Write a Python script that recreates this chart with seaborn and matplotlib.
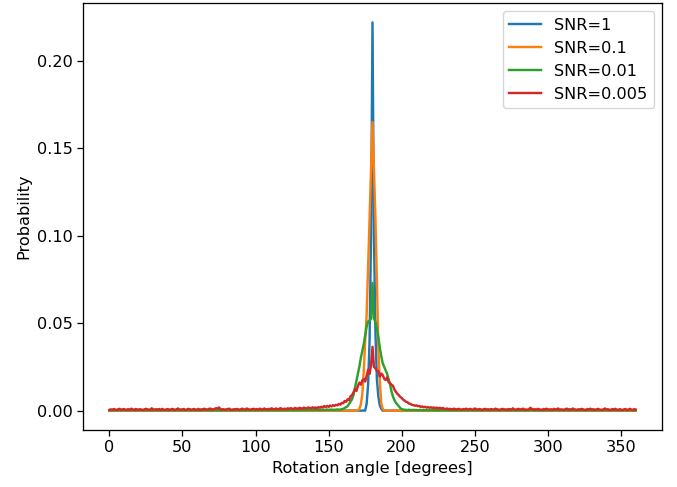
import numpy as np
import pandas as pd
import matplotlib
matplotlib.use("Agg")
import matplotlib.pyplot as plt
import seaborn as sns

# scale factor: the reference was drawn at ~116 dpi, we save at 100 dpi
k = 1.16
plt.rcParams.update({
    "font.size": 10 * k,
    "lines.linewidth": 1.5 * k,
    "axes.linewidth": 0.8 * k,
    "xtick.major.size": 3.5 * k,
    "ytick.major.size": 3.5 * k,
    "xtick.major.width": 0.8 * k,
    "ytick.major.width": 0.8 * k,
    "legend.fontsize": 10 * k,
})

# values, in units of 1e-4 (probability per 1 degree bin)
# SNR=1 : only non-zero around the peak, 176..186
blue_peak = [40, 150, 400, 1000, 2220, 1000, 450, 180, 80, 30, 10]
blue = [0] * 176 + blue_peak + [0] * (361 - 176 - len(blue_peak))

# SNR=0.1 : non-zero 171..187
orange_peak = [10, 35, 90, 220, 400, 550, 820, 1100, 1370, 1650, 1370, 1100, 750, 350, 170, 40, 10]
orange = [0] * 171 + orange_peak + [0] * (361 - 171 - len(orange_peak))

# SNR=0.01
green_left = [
    2, 3, 2, 1, 3, 2, 2, 4, 1, 2, 3, 2, 2, 1, 3, 2, 5, 2, 1, 2,
    3, 2, 2, 3, 1, 2, 2, 3, 2, 1, 2, 4, 2, 2, 3, 1, 2, 2, 3, 2,
    1, 2, 3, 2, 2, 1, 3, 2, 2, 5, 2, 1, 2, 2, 3, 2, 1, 3, 2, 2,
    3, 2, 1, 2, 3, 2, 2, 5, 2, 1, 2, 3, 2, 2, 3, 2, 1, 2, 4, 2,
    2, 3, 2, 1, 2, 3, 2, 2, 3, 2, 2, 1, 3, 2, 2, 4, 2, 2, 3, 2,
    2, 3, 2, 3, 2, 2, 5, 2, 3, 3, 2, 3, 2, 3, 3, 2, 4, 3, 2, 3,
    3, 2, 3, 3, 5, 3, 3, 2, 3, 4, 3, 3, 5, 3, 3, 4, 3, 4, 5, 3,
    4, 3, 5, 4, 3, 4, 6, 4, 4, 6, 4, 5, 6, 4, 5, 5, 7, 5,
]  # 0..157
green_mid = [
    6, 8, 10, 15, 20, 25, 38, 50, 65, 90,          # 158..167
    130, 170, 210, 250, 300, 340, 380, 430, 480, 510,  # 168..177
    515, 525, 730, 525, 510, 470, 420, 360, 310, 270,  # 178..187
    250, 230, 210, 180, 150, 110, 80, 60, 45, 35,    # 188..197
    25, 15, 8, 6,                                    # 198..201
]
green_right = [
    5, 4, 3, 5, 3, 3, 4, 3, 3, 2, 3, 4, 2, 3, 2, 3, 2, 2, 4, 2,
    2, 3, 2, 1, 2, 3, 2, 2, 4, 2, 1, 2, 2, 3, 2, 2, 1, 3, 2, 2,
    3, 2, 1, 2, 2, 4, 2, 2, 1, 3, 2, 2, 3, 1, 2, 2, 4, 2, 2, 1,
    2, 3, 2, 2, 3, 1, 2, 2, 5, 2, 2, 1, 3, 2, 2, 3, 2, 1, 2, 2,
    3, 2, 2, 1, 3, 2, 2, 4, 2, 1, 2, 2, 3, 2, 2, 1, 3, 2, 2, 4,
    2, 1, 2, 3, 2, 2, 1, 3, 2, 2, 3, 2, 1, 2, 2, 4, 2, 2, 1, 3,
    2, 2, 3, 1, 2, 2, 3, 2, 2, 1, 4, 2, 2, 3, 2, 1, 2, 2, 3, 2,
    2, 1, 3, 2, 2, 3, 2, 1, 2, 2, 3, 2, 1, 2, 3, 2, 2, 1, 2,
]  # 202..360
green = green_left + green_mid + green_right

# SNR=0.005
red_left = [
    4, 7, 5, 9, 6, 3, 8, 10, 5, 7, 9, 4, 6, 8, 5, 11, 6, 4, 9, 7,
    5, 8, 6, 3, 7, 10, 8, 4, 6, 13, 7, 5, 8, 6, 9, 4, 10, 6, 3, 7,
    9, 5, 6, 10, 7, 4, 8, 12, 6, 5, 7, 9, 4, 6, 10, 8, 5, 7, 9, 6,
    5, 10, 4, 8, 6, 11, 7, 5, 9, 12, 8, 6, 10, 14, 11, 18, 9, 6, 8, 5,
    7, 9, 11, 6, 4, 8, 6, 10, 7, 5, 8, 11, 7, 6, 12, 8, 5, 7, 9, 10,
    6, 9, 5, 11, 8, 6, 12, 8, 7, 10, 8, 13, 9, 7, 12, 9, 8, 14, 10, 9,
    11, 8, 13, 10, 14, 11, 9, 15, 12, 10, 16, 13, 11, 17, 14, 12, 18, 15, 13, 19,
]  # 0..139
red_mid = [
    14, 18, 13, 20, 16, 22, 18, 26, 20, 27,          # 140..149
    21, 29, 24, 31, 27, 33, 30, 38, 34, 44,          # 150..159
    42, 55, 50, 65, 60, 82, 88, 104, 122, 112,       # 160..169
    140, 160, 148, 172, 180, 166, 198, 234, 210, 262,  # 170..179
    365, 250, 242, 228, 226, 194, 212, 203, 182, 175,  # 180..189
    190, 163, 157, 148, 142, 120, 108, 96, 88, 78,   # 190..199
    72, 62, 57, 50, 47, 40, 38, 33, 31, 28,          # 200..209
    30, 25, 27, 21, 24, 19, 22, 17, 20, 16,          # 210..219
    19,                                              # 220
]
red_right = [
    15, 18, 14, 17, 13, 16, 12, 15, 11, 9, 12, 8, 10, 7, 9, 11, 6, 8, 10, 7,
    5, 9, 7, 11, 6, 8, 10, 5, 7, 12, 8, 6, 9, 7, 4, 8, 10, 6, 8, 5,
    9, 7, 5, 11, 8, 6, 4, 8, 10, 6, 7, 5, 9, 8, 6, 13, 7, 5, 8, 10,
    6, 8, 11, 5, 7, 4, 8, 16, 9, 6, 8, 5, 10, 7, 6, 4, 9, 6, 11, 7,
    5, 8, 4, 10, 6, 8, 12, 5, 7, 6, 4, 9, 11, 6, 8, 5, 12, 7, 6, 4,
    8, 6, 10, 7, 5, 4, 9, 6, 11, 6, 8, 4, 6, 10, 7, 5, 4, 8, 12, 6,
    8, 5, 4, 9, 6, 10, 6, 4, 8, 6, 3, 7, 9, 4, 6, 10, 6, 4, 8, 6,
]  # 221..360
red = red_left + red_mid + red_right

snr_labels = ["SNR=1", "SNR=0.1", "SNR=0.01", "SNR=0.005"]
series = [blue, orange, green, red]
for s in series:
    assert len(s) == 361, len(s)

angles = np.arange(361)
df = pd.concat([
    pd.DataFrame({"angle": angles, "prob": np.array(s) * 1e-4, "snr": lab})
    for s, lab in zip(series, snr_labels)
])

fig = plt.figure(figsize=(6.77, 4.87), dpi=100)
ax = fig.add_axes([83 / 677, 57 / 487, 579 / 677, 427 / 487])
sns.lineplot(data=df, x="angle", y="prob", hue="snr", hue_order=snr_labels,
             palette="tab10", ax=ax, estimator=None, sort=False)

handles, labels = ax.get_legend_handles_labels()
ax.legend(handles, labels, loc="upper right")
ax.set_xlabel("Rotation angle [degrees]")
ax.set_ylabel("Probability")
ax.set_xticks(np.arange(0, 351, 50))
ax.set_yticks([0.0, 0.05, 0.10, 0.15, 0.20])

fig.savefig("out.png", dpi=100)
